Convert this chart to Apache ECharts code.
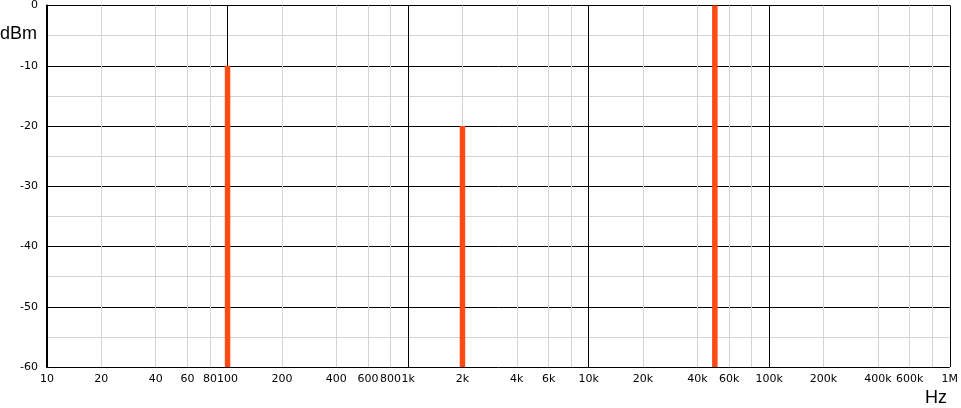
<!DOCTYPE html>
<html>
<head>
<meta charset="utf-8">
<script src="https://cdn.jsdelivr.net/npm/echarts@6/dist/echarts.min.js"></script>
<style>
html,body{margin:0;padding:0;background:#fff;}
#chart{width:961px;height:408px;}
</style>
</head>
<body>
<div id="chart"></div>
<script>
// Data
const freqHz = [100, 2000, 50000];
const levelDbm = [-10, -20, 0];
const xLabelValues = [10, 20, 40, 60, 80, 100, 200, 400, 600, 800, 1000, 2000, 4000, 6000, 10000, 20000, 40000, 60000, 100000, 200000, 400000, 600000, 1000000];
const xLabelTexts = ['10', '20', '40', '60', '80', '100', '200', '400', '600', '800', '1k', '2k', '4k', '6k', '10k', '20k', '40k', '60k', '100k', '200k', '400k', '600k', '1M'];
const xMinorValues = [20, 40, 60, 80, 200, 400, 600, 800, 2000, 4000, 6000, 8000, 20000, 40000, 60000, 80000, 200000, 400000, 600000, 800000];
const X_MIN = 10, X_MAX = 1000000;
const Y_MIN = -60, Y_MAX = 0, Y_STEP = 10;

const labelMap = {};
xLabelValues.forEach((v, i) => { labelMap[v] = xLabelTexts[i]; });

const chart = echarts.init(document.getElementById('chart'));
const BAR_COLOR = '#ff4a14';
const FONT = 'DejaVu Sans';

chart.setOption({
  animation: false,
  backgroundColor: '#fff',
  grid: { left: 47, right: 8, top: 4, bottom: 41, containLabel: false },
  xAxis: {
    type: 'log', logBase: 10, min: X_MIN, max: X_MAX, position: 'bottom',
    axisLine: { show: true, lineStyle: { color: '#000', width: 1 } },
    axisTick: { show: false },
    axisLabel: {
      show: true, customValues: xLabelValues, hideOverlap: false,
      color: '#000', fontFamily: FONT, fontSize: 11, margin: 7,
      formatter: v => labelMap[Math.round(v)] !== undefined ? labelMap[Math.round(v)] : ''
    },
    splitLine: { show: true, lineStyle: { color: '#000', width: 1 } },
    z: 3
  },
  yAxis: {
    type: 'value', min: Y_MIN, max: Y_MAX, interval: Y_STEP,
    axisLine: { show: true, lineStyle: { color: '#000', width: 2 } },
    axisTick: { show: false },
    axisLabel: { color: '#000', fontFamily: FONT, fontSize: 11, margin: 9 },
    splitLine: { show: true, lineStyle: { color: '#000', width: 1 } },
    minorTick: { show: false, splitNumber: 2 },
    minorSplitLine: { show: true, lineStyle: { color: '#d3d3d3', width: 1 } },
    z: 3
  },
  graphic: [
    { type: 'text', left: 0, top: 25, style: { text: 'dBm', fontFamily: 'Liberation Sans', fontSize: 18, fill: '#000' } },
    { type: 'text', right: 14, top: 389, style: { text: 'Hz', fontFamily: 'Liberation Sans', fontSize: 18, fill: '#000' } }
  ],
  series: [
    {
      type: 'line',
      data: [],
      z: 1,
      silent: true,
      markLine: {
        silent: true,
        symbol: ['none', 'none'],
        label: { show: false },
        animation: false,
        lineStyle: { color: '#d3d3d3', width: 1, type: 'solid' },
        emphasis: { disabled: true },
        data: xMinorValues.map(v => ({ xAxis: v }))
      }
    },
    {
      type: 'custom',
      z: 5,
      data: freqHz.map((f, i) => [f, levelDbm[i]]),
      renderItem: function (params, api) {
        const top = api.coord([api.value(0), api.value(1)]);
        const bottom = api.coord([api.value(0), Y_MIN]);
        const w = 5.5;
        return {
          type: 'rect',
          shape: { x: top[0] - w / 2, y: top[1], width: w, height: bottom[1] - top[1] },
          style: { fill: BAR_COLOR }
        };
      }
    }
  ]
});
</script>
</body>
</html>
